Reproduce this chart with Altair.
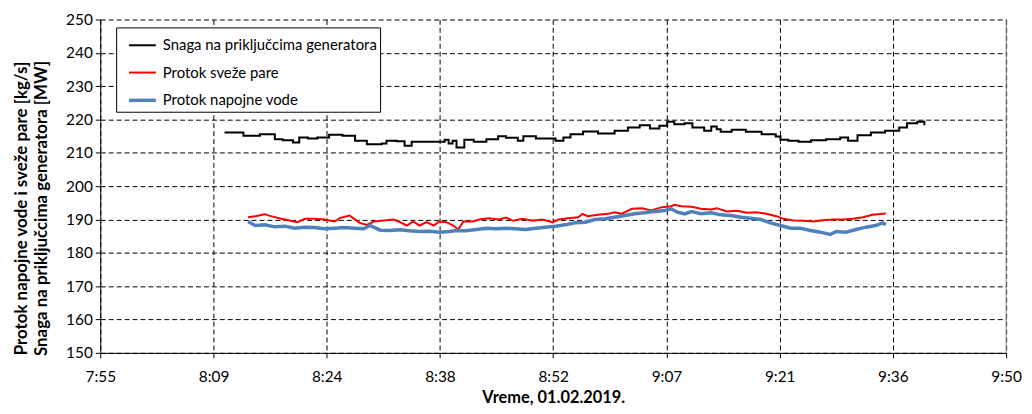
import altair as alt
import pandas as pd

SERIES = ["Snaga na priključcima generatora", "Protok sveže pare", "Protok napojne vode"]
COLORS = ["#000000", "#FF0000", "#4F81BD"]
WIDTHS = [2.0, 2.0, 3.5]

# time axis in minutes after midnight (Excel-style ticks every 0.01 day)
X_TICKS = [475.2, 489.6, 504.0, 518.4, 532.8, 547.2, 561.6, 576.0, 590.4]
Y_TICKS = [150, 160, 170, 180, 190, 200, 210, 220, 230, 240, 250]

black_t = [491.0, 492.7, 493.4, 495.5, 496.5, 497.4, 498.4, 499.7, 500.5, 501.6,
           502.8, 504.3, 506.0, 507.6, 509.1, 511.0, 511.6, 512.9, 513.9, 514.8,
           516.7, 519.0, 519.5, 520.0, 520.5, 521.5, 522.7, 524.3, 525.8, 526.8,
           528.3, 529.0, 530.6, 532.4, 533.1, 534.1, 535.0, 536.6, 538.5, 540.6,
           542.3, 543.8, 545.1, 546.3, 547.3, 548.2, 549.5, 550.5, 552.0, 552.9,
           553.6, 554.1, 555.5, 557.3, 559.3, 561.1, 561.7, 562.7, 564.0, 565.6,
           567.5, 569.3, 570.3, 571.5, 573.2, 575.0, 576.8, 577.8, 579.1, 580.0]
black_v = [216.1, 216.1, 215.1, 215.6, 215.6, 214.1, 213.8, 213.1, 214.6, 214.3,
           214.6, 215.4, 215.1, 213.6, 212.6, 212.8, 213.6, 213.5, 212.1, 213.3,
           213.3, 213.9, 212.8, 213.6, 211.6, 213.9, 213.3, 214.1, 215.0, 214.5,
           213.6, 215.0, 214.3, 214.3, 213.6, 214.6, 215.6, 216.4, 215.8, 216.6,
           217.6, 218.3, 217.3, 218.1, 219.3, 218.6, 218.9, 217.6, 216.6, 217.9,
           217.1, 216.3, 216.9, 216.3, 215.6, 214.9, 213.9, 213.6, 213.3, 213.8,
           214.1, 214.6, 213.6, 215.3, 216.1, 216.6, 217.6, 218.9, 219.3, 218.3]

red_t = [494.0, 494.9, 496.1, 496.9, 498.2, 499.4, 500.3, 501.2, 502.4, 503.7,
         505.0, 505.7, 506.9, 507.5, 508.2, 509.1, 510.0, 511.3, 512.5, 513.3,
         514.2, 515.0, 515.8, 516.7, 517.6, 518.3, 519.2, 520.1, 520.7, 521.4,
         522.6, 523.4, 524.6, 525.9, 526.8, 527.7, 528.9, 530.2, 531.4, 532.7,
         533.5, 534.7, 536.0, 536.5, 537.2, 538.5, 539.8, 540.6, 541.5, 542.8,
         544.1, 545.3, 546.6, 547.8, 548.2, 549.1, 550.4, 551.6, 552.9, 553.6,
         554.9, 556.2, 557.4, 558.7, 559.9, 561.2, 562.1, 563.3, 564.6, 565.9,
         567.1, 568.4, 569.6, 570.9, 572.2, 573.4, 574.7, 575.1]
red_v = [190.7, 191.0, 191.6, 191.0, 190.2, 189.6, 189.2, 190.2, 190.2, 190.0,
         189.4, 190.5, 191.2, 190.2, 189.0, 188.4, 189.4, 189.7, 190.0, 189.2,
         188.2, 189.4, 188.2, 189.2, 188.2, 189.4, 189.2, 188.2, 187.0, 189.4,
         189.4, 190.0, 190.4, 190.0, 190.6, 189.6, 190.2, 189.6, 190.0, 189.2,
         190.0, 190.4, 190.7, 191.7, 191.0, 191.4, 191.7, 192.2, 191.7, 193.2,
         193.4, 192.7, 193.7, 194.0, 194.4, 194.0, 193.8, 193.2, 193.0, 193.4,
         192.4, 192.6, 192.0, 192.2, 191.7, 191.0, 190.2, 189.7, 189.6, 189.4,
         189.8, 190.0, 190.0, 190.2, 190.7, 191.4, 191.7, 191.8]

blue_t = [494.0, 494.9, 496.1, 497.4, 498.7, 499.9, 501.2, 502.4, 503.7, 505.0,
          506.2, 507.5, 508.7, 509.5, 510.8, 512.0, 513.3, 514.5, 515.8, 517.1,
          518.3, 519.6, 520.5, 521.7, 523.0, 524.3, 525.5, 526.8, 528.0, 529.3,
          530.6, 531.8, 533.1, 534.3, 535.6, 536.9, 538.1, 539.4, 540.6, 541.9,
          543.2, 544.4, 545.7, 547.0, 547.8, 548.6, 549.5, 550.4, 551.6, 552.9,
          554.1, 555.4, 556.7, 557.9, 559.2, 560.4, 561.7, 563.0, 564.2, 565.5,
          566.8, 568.0, 568.8, 570.0, 571.3, 572.6, 573.8, 574.7, 575.1]
blue_v = [189.4, 188.2, 188.4, 187.8, 188.0, 187.4, 187.7, 187.6, 187.2, 187.4,
          187.6, 187.4, 187.2, 188.2, 186.8, 186.7, 186.9, 186.6, 186.4, 186.5,
          186.2, 186.4, 186.7, 186.6, 187.0, 187.4, 187.2, 187.4, 187.2, 187.0,
          187.4, 187.7, 188.0, 188.4, 189.0, 189.2, 190.0, 190.2, 190.7, 191.2,
          191.7, 192.0, 192.4, 192.7, 193.2, 192.2, 191.7, 192.4, 191.7, 192.0,
          191.4, 191.2, 190.7, 190.4, 190.0, 189.0, 188.2, 187.4, 187.4, 186.7,
          186.2, 185.5, 186.4, 186.2, 187.0, 187.7, 188.2, 189.0, 188.4]

df_black = pd.DataFrame({"t": black_t, "v": black_v, "s": SERIES[0]})
df_red = pd.DataFrame({"t": red_t, "v": red_v, "s": SERIES[1]})
df_blue = pd.DataFrame({"t": blue_t, "v": blue_v, "s": SERIES[2]})
df_edge = pd.DataFrame({"t": [X_TICKS[-1]]})

FONT = "Lato"

label_expr = ("floor(datum.value/60) + ':' + (floor(datum.value%60) < 10 ? '0' : '') "
              "+ floor(datum.value%60)")

x_enc = alt.X(
    "t:Q",
    scale=alt.Scale(domain=[X_TICKS[0], X_TICKS[-1]], nice=False, zero=False),
    axis=alt.Axis(
        values=X_TICKS, labelExpr=label_expr, title="Vreme, 01.02.2019.",
        grid=True, gridDash=[5, 3], gridColor="#000000", gridWidth=1,
        domainColor="#000000", tickColor="#000000", tickSize=5,
        labelFont=FONT, labelFontSize=15.5, labelColor="#000000", labelPadding=12,
        titleFont=FONT, titleFontSize=16.5, titleFontWeight="bold", titleColor="#000000",
        titlePadding=5, labelFlush=False,
    ),
)
y_enc = alt.Y(
    "v:Q",
    scale=alt.Scale(domain=[150, 250], nice=False, zero=False),
    axis=alt.Axis(
        values=Y_TICKS, title=["Protok napojne vode i sveže pare [kg/s]",
                               "Snaga na priključcima generatora [MW]"],
        grid=True, gridDash=[5, 3], gridColor="#000000", gridWidth=1,
        domainColor="#000000", tickColor="#000000", tickSize=5,
        labelFont=FONT, labelFontSize=15.5, labelColor="#000000", labelPadding=3,
        titleFont=FONT, titleFontSize=17, titleFontWeight="bold", titleColor="#000000",
        titlePadding=15, titleLineHeight=20, titleY=190,
    ),
)
legend = alt.Legend(
    title=None, orient="none", legendX=16, legendY=8,
    symbolType="stroke", symbolSize=730, rowPadding=4.5, padding=3,
    symbolOffset=8, labelOffset=5,
    labelFont=FONT, labelFontSize=15, labelColor="#000000",
    labelLimit=500, fillColor="#ffffff", strokeColor="#000000",
)
color_enc = alt.Color("s:N", scale=alt.Scale(domain=SERIES, range=COLORS), legend=legend)
width_enc = alt.StrokeWidth(
    "s:N", scale=alt.Scale(type="ordinal", domain=SERIES, range=WIDTHS), legend=legend)

black = alt.Chart(df_black).mark_line(interpolate="step-after").encode(
    x=x_enc, y=y_enc, color=color_enc, strokeWidth=width_enc)
red = alt.Chart(df_red).mark_line().encode(
    x=x_enc, y=y_enc, color=color_enc, strokeWidth=width_enc)
blue = alt.Chart(df_blue).mark_line().encode(
    x=x_enc, y=y_enc, color=color_enc, strokeWidth=width_enc)
edge = alt.Chart(df_edge).mark_rule(color="#808080", strokeWidth=1).encode(x="t:Q")

chart = alt.layer(black, red, blue, edge).properties(
    width=913, height=336,
    autosize=alt.AutoSizeParams(type="none"),
    padding={"left": 93, "top": 10, "right": 18, "bottom": 52},
    background="#ffffff",
).configure_view(stroke=None)

chart.save("out.html", embed_options={"renderer": "svg", "actions": False})
